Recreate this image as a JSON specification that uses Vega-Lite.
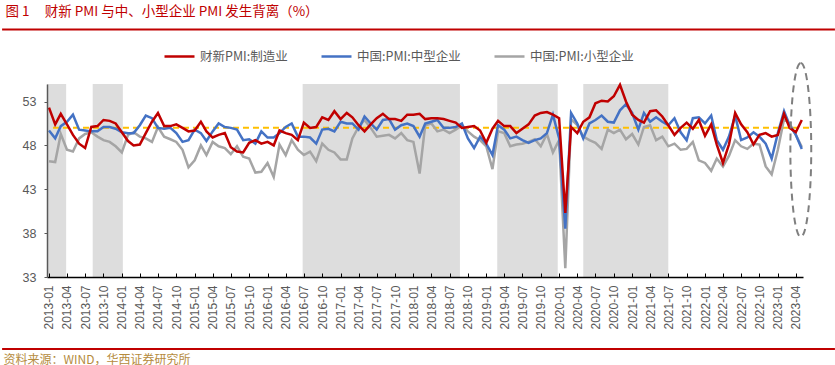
{
  "$schema": "https://vega.github.io/schema/vega-lite/v6.json",
  "width": 756,
  "height": 193,
  "autosize": {"type": "none"},
  "padding": {"left": 47, "top": 84, "right": 32, "bottom": 88},
  "background": "white",
  "config": {"view": {"stroke": null}, "font": "Liberation Sans"},
  "datasets": {
    "one": [{}],
    "bands": [
      {"start": "2012-12-22", "end": "2013-03-28"},
      {"start": "2013-08-08", "end": "2014-01-06"},
      {"start": "2016-06-25", "end": "2018-08-22"},
      {"start": "2019-02-25", "end": "2019-12-25"},
      {"start": "2020-05-01", "end": "2021-07-01"}
    ],
    "pmi": [
      {"date": "2013-01-01", "cx": 52.3, "mid": 49.7, "small": 46.2},
      {"date": "2013-02-01", "cx": 50.4, "mid": 48.8, "small": 46.1},
      {"date": "2013-03-01", "cx": 51.6, "mid": 50.2, "small": 49.3},
      {"date": "2013-04-01", "cx": 50.4, "mid": 50.7, "small": 47.5},
      {"date": "2013-05-01", "cx": 49.2, "mid": 51.5, "small": 47.3},
      {"date": "2013-06-01", "cx": 48.2, "mid": 49.8, "small": 48.8},
      {"date": "2013-07-01", "cx": 47.7, "mid": 49.7, "small": 49.3},
      {"date": "2013-08-01", "cx": 50.1, "mid": 49.6, "small": 49.5},
      {"date": "2013-09-01", "cx": 50.2, "mid": 49.6, "small": 49.0},
      {"date": "2013-10-01", "cx": 50.9, "mid": 50.1, "small": 48.6},
      {"date": "2013-11-01", "cx": 50.8, "mid": 50.1, "small": 48.4},
      {"date": "2013-12-01", "cx": 50.5, "mid": 49.9, "small": 47.9},
      {"date": "2014-01-01", "cx": 49.5, "mid": 49.5, "small": 47.2},
      {"date": "2014-02-01", "cx": 48.5, "mid": 49.4, "small": 49.2},
      {"date": "2014-03-01", "cx": 48.0, "mid": 49.4, "small": 49.5},
      {"date": "2014-04-01", "cx": 48.1, "mid": 50.3, "small": 49.0},
      {"date": "2014-05-01", "cx": 49.4, "mid": 51.4, "small": 48.8},
      {"date": "2014-06-01", "cx": 50.7, "mid": 51.1, "small": 48.4},
      {"date": "2014-07-01", "cx": 51.7, "mid": 50.0, "small": 50.1},
      {"date": "2014-08-01", "cx": 50.2, "mid": 49.9, "small": 49.0},
      {"date": "2014-09-01", "cx": 50.2, "mid": 50.0, "small": 48.7},
      {"date": "2014-10-01", "cx": 50.4, "mid": 49.4, "small": 48.4},
      {"date": "2014-11-01", "cx": 50.0, "mid": 48.4, "small": 47.5},
      {"date": "2014-12-01", "cx": 49.6, "mid": 48.6, "small": 45.5},
      {"date": "2015-01-01", "cx": 49.7, "mid": 49.8, "small": 46.3},
      {"date": "2015-02-01", "cx": 50.7, "mid": 49.4, "small": 48.0},
      {"date": "2015-03-01", "cx": 49.6, "mid": 48.5, "small": 46.9},
      {"date": "2015-04-01", "cx": 48.9, "mid": 49.6, "small": 48.4},
      {"date": "2015-05-01", "cx": 49.2, "mid": 50.5, "small": 47.9},
      {"date": "2015-06-01", "cx": 49.4, "mid": 50.1, "small": 47.7},
      {"date": "2015-07-01", "cx": 47.8, "mid": 50.0, "small": 47.0},
      {"date": "2015-08-01", "cx": 47.3, "mid": 49.8, "small": 47.9},
      {"date": "2015-09-01", "cx": 47.2, "mid": 48.6, "small": 46.7},
      {"date": "2015-10-01", "cx": 48.3, "mid": 48.7, "small": 46.5},
      {"date": "2015-11-01", "cx": 48.6, "mid": 48.2, "small": 44.9},
      {"date": "2015-12-01", "cx": 48.2, "mid": 49.6, "small": 45.0},
      {"date": "2016-01-01", "cx": 48.4, "mid": 48.9, "small": 46.0},
      {"date": "2016-02-01", "cx": 48.0, "mid": 48.9, "small": 44.4},
      {"date": "2016-03-01", "cx": 49.7, "mid": 49.4, "small": 48.1},
      {"date": "2016-04-01", "cx": 49.4, "mid": 50.1, "small": 46.9},
      {"date": "2016-05-01", "cx": 49.2, "mid": 50.5, "small": 48.6},
      {"date": "2016-06-01", "cx": 48.6, "mid": 49.0, "small": 47.5},
      {"date": "2016-07-01", "cx": 50.6, "mid": 49.0, "small": 46.9},
      {"date": "2016-08-01", "cx": 50.0, "mid": 48.9, "small": 47.3},
      {"date": "2016-09-01", "cx": 50.1, "mid": 48.2, "small": 46.2},
      {"date": "2016-10-01", "cx": 51.2, "mid": 49.8, "small": 48.2},
      {"date": "2016-11-01", "cx": 50.9, "mid": 49.9, "small": 47.5},
      {"date": "2016-12-01", "cx": 51.9, "mid": 49.6, "small": 47.2},
      {"date": "2017-01-01", "cx": 51.0, "mid": 50.7, "small": 46.4},
      {"date": "2017-02-01", "cx": 51.7, "mid": 50.5, "small": 46.4},
      {"date": "2017-03-01", "cx": 51.2, "mid": 50.5, "small": 48.8},
      {"date": "2017-04-01", "cx": 50.3, "mid": 49.8, "small": 50.1},
      {"date": "2017-05-01", "cx": 49.6, "mid": 51.3, "small": 50.9},
      {"date": "2017-06-01", "cx": 50.4, "mid": 50.5, "small": 50.0},
      {"date": "2017-07-01", "cx": 51.1, "mid": 49.8, "small": 49.0},
      {"date": "2017-08-01", "cx": 51.6, "mid": 50.9, "small": 49.1},
      {"date": "2017-09-01", "cx": 51.0, "mid": 51.0, "small": 49.2},
      {"date": "2017-10-01", "cx": 51.0, "mid": 49.8, "small": 48.8},
      {"date": "2017-11-01", "cx": 50.8, "mid": 50.3, "small": 49.4},
      {"date": "2017-12-01", "cx": 51.5, "mid": 50.5, "small": 48.6},
      {"date": "2018-01-01", "cx": 51.5, "mid": 50.2, "small": 48.4},
      {"date": "2018-02-01", "cx": 51.6, "mid": 49.0, "small": 44.8},
      {"date": "2018-03-01", "cx": 51.0, "mid": 50.5, "small": 50.3},
      {"date": "2018-04-01", "cx": 51.1, "mid": 50.7, "small": 50.5},
      {"date": "2018-05-01", "cx": 51.1, "mid": 50.9, "small": 49.6},
      {"date": "2018-06-01", "cx": 51.0, "mid": 50.0, "small": 49.8},
      {"date": "2018-07-01", "cx": 50.8, "mid": 50.0, "small": 49.4},
      {"date": "2018-08-01", "cx": 50.6, "mid": 50.1, "small": 49.8},
      {"date": "2018-09-01", "cx": 50.0, "mid": 50.5, "small": 50.3},
      {"date": "2018-10-01", "cx": 50.1, "mid": 48.8, "small": 49.6},
      {"date": "2018-11-01", "cx": 50.2, "mid": 47.7, "small": 49.0},
      {"date": "2018-12-01", "cx": 49.7, "mid": 49.0, "small": 48.6},
      {"date": "2019-01-01", "cx": 48.3, "mid": 48.2, "small": 47.9},
      {"date": "2019-02-01", "cx": 49.9, "mid": 46.9, "small": 45.3},
      {"date": "2019-03-01", "cx": 50.8, "mid": 50.3, "small": 49.6},
      {"date": "2019-04-01", "cx": 50.2, "mid": 49.8, "small": 49.4},
      {"date": "2019-05-01", "cx": 50.2, "mid": 48.8, "small": 47.9},
      {"date": "2019-06-01", "cx": 49.4, "mid": 49.0, "small": 48.1},
      {"date": "2019-07-01", "cx": 49.9, "mid": 48.6, "small": 48.2},
      {"date": "2019-08-01", "cx": 50.4, "mid": 48.3, "small": 48.4},
      {"date": "2019-09-01", "cx": 51.4, "mid": 48.6, "small": 48.7},
      {"date": "2019-10-01", "cx": 51.7, "mid": 48.8, "small": 47.9},
      {"date": "2019-11-01", "cx": 51.8, "mid": 49.4, "small": 49.3},
      {"date": "2019-12-01", "cx": 51.5, "mid": 51.5, "small": 47.2},
      {"date": "2020-01-01", "cx": 51.1, "mid": 48.8, "small": 48.6},
      {"date": "2020-02-01", "cx": 40.3, "mid": 38.5, "small": 34.0},
      {"date": "2020-03-01", "cx": 50.1, "mid": 51.7, "small": 51.0},
      {"date": "2020-04-01", "cx": 49.4, "mid": 50.5, "small": 50.3},
      {"date": "2020-05-01", "cx": 50.7, "mid": 48.8, "small": 49.0},
      {"date": "2020-06-01", "cx": 51.2, "mid": 50.5, "small": 48.6},
      {"date": "2020-07-01", "cx": 52.8, "mid": 50.9, "small": 48.3},
      {"date": "2020-08-01", "cx": 53.1, "mid": 51.4, "small": 47.6},
      {"date": "2020-09-01", "cx": 53.0, "mid": 50.7, "small": 49.8},
      {"date": "2020-10-01", "cx": 53.6, "mid": 50.6, "small": 49.4},
      {"date": "2020-11-01", "cx": 54.9, "mid": 52.0, "small": 49.8},
      {"date": "2020-12-01", "cx": 53.0, "mid": 52.7, "small": 48.7},
      {"date": "2021-01-01", "cx": 51.5, "mid": 51.7, "small": 49.3},
      {"date": "2021-02-01", "cx": 50.9, "mid": 49.8, "small": 48.1},
      {"date": "2021-03-01", "cx": 50.6, "mid": 51.7, "small": 50.1},
      {"date": "2021-04-01", "cx": 51.9, "mid": 50.7, "small": 50.3},
      {"date": "2021-05-01", "cx": 52.0, "mid": 51.2, "small": 48.6},
      {"date": "2021-06-01", "cx": 51.3, "mid": 50.7, "small": 49.0},
      {"date": "2021-07-01", "cx": 50.3, "mid": 50.3, "small": 47.9},
      {"date": "2021-08-01", "cx": 49.2, "mid": 51.1, "small": 48.2},
      {"date": "2021-09-01", "cx": 50.0, "mid": 49.5, "small": 47.5},
      {"date": "2021-10-01", "cx": 50.6, "mid": 48.6, "small": 47.6},
      {"date": "2021-11-01", "cx": 49.9, "mid": 51.1, "small": 48.4},
      {"date": "2021-12-01", "cx": 50.9, "mid": 51.2, "small": 46.3},
      {"date": "2022-01-01", "cx": 49.1, "mid": 50.5, "small": 46.0},
      {"date": "2022-02-01", "cx": 50.4, "mid": 51.4, "small": 45.1},
      {"date": "2022-03-01", "cx": 48.1, "mid": 48.6, "small": 46.5},
      {"date": "2022-04-01", "cx": 46.0, "mid": 47.5, "small": 45.6},
      {"date": "2022-05-01", "cx": 48.1, "mid": 49.0, "small": 46.8},
      {"date": "2022-06-01", "cx": 51.7, "mid": 51.4, "small": 48.6},
      {"date": "2022-07-01", "cx": 50.4, "mid": 48.6, "small": 47.9},
      {"date": "2022-08-01", "cx": 49.5, "mid": 48.9, "small": 47.6},
      {"date": "2022-09-01", "cx": 48.1, "mid": 49.5, "small": 48.2},
      {"date": "2022-10-01", "cx": 49.2, "mid": 49.0, "small": 48.1},
      {"date": "2022-11-01", "cx": 49.4, "mid": 48.2, "small": 45.6},
      {"date": "2022-12-01", "cx": 49.0, "mid": 46.5, "small": 44.7},
      {"date": "2023-01-01", "cx": 49.2, "mid": 49.4, "small": 47.5},
      {"date": "2023-02-01", "cx": 51.6, "mid": 51.9, "small": 51.0},
      {"date": "2023-03-01", "cx": 50.0, "mid": 50.3, "small": 50.5},
      {"date": "2023-04-01", "cx": 49.5, "mid": 49.2, "small": 49.2},
      {"date": "2023-05-01", "cx": 50.9, "mid": 47.6, "small": 47.8}
    ]
  },
  "layer": [
    {
      "data": {"name": "bands"},
      "mark": {"type": "rect", "color": "#DDDDDD"},
      "encoding": {
        "x": {"field": "start", "type": "temporal", "scale": {"type": "utc", "domain": [{"year": 2012, "month": 12, "date": 22, "utc": true}, {"year": 2023, "month": 5, "date": 7, "utc": true}]},
          "axis": {"title": "资料来源：WIND，华西证券研究所", "format": "%Y-%m", "tickCount": {"interval": "month", "step": 3}, "labelAngle": 270, "labelFont": "Liberation Sans", "labelFontSize": 12, "labelColor": "#595959", "labelPadding": 12, "labelOverlap": false, "labelFlush": false, "tickSize": -4, "tickColor": "#000000", "tickWidth": 1, "domainColor": "#000000", "domainWidth": 1.5, "grid": false, "titleX": -44, "titleY": 82, "titleAnchor": null, "titleAlign": "left", "titleBaseline": "middle", "titleFont": "Noto Sans CJK SC", "titleFontSize": 12, "titleFontWeight": "normal", "titleColor": "#B58B3D", "zindex": 1}},
        "x2": {"field": "end"}
      }
    },
    {
      "data": {"name": "one"},
      "mark": {"type": "rule", "color": "#FFC000", "strokeWidth": 2, "strokeDash": [6, 4]},
      "encoding": {
        "x": {"datum": {"year": 2013, "month": 1, "date": 21, "utc": true}, "type": "temporal"},
        "x2": {"datum": {"year": 2023, "month": 6, "date": 21, "utc": true}},
        "y": {"datum": 50, "type": "quantitative", "scale": {"domain": [33, 55], "zero": false, "nice": false},
          "axis": {"title": "图 1\u00a0\u00a0\u00a0\u00a0\u00a0财新 PMI 与中、小型企业 PMI 发生背离（%）", "values": [33, 38, 43, 48, 53], "labelFont": "Liberation Sans", "labelFontSize": 12.5, "labelColor": "#595959", "labelPadding": 8, "tickSize": 3, "tickColor": "#595959", "domainColor": "#595959", "domainWidth": 1.5, "grid": false, "titleAngle": 0, "titleX": -42, "titleY": -73, "titleAlign": "left", "titleBaseline": "middle", "titleFont": "Noto Sans CJK SC", "titleFontSize": 13.5, "titleFontWeight": "normal", "titleColor": "#C00000", "zindex": 1}}
      }
    },
    {
      "data": {"name": "pmi"},
      "mark": {"type": "line", "strokeWidth": 2.5},
      "encoding": {
        "x": {"field": "date", "type": "temporal"},
        "y": {"field": "small", "type": "quantitative"},
        "color": {"datum": "中国:PMI:小型企业", "type": "nominal"}
      }
    },
    {
      "data": {"name": "pmi"},
      "mark": {"type": "line", "strokeWidth": 2.5},
      "encoding": {
        "x": {"field": "date", "type": "temporal"},
        "y": {"field": "mid", "type": "quantitative"},
        "color": {"datum": "中国:PMI:中型企业", "type": "nominal"}
      }
    },
    {
      "data": {"name": "pmi"},
      "mark": {"type": "line", "strokeWidth": 2.5},
      "encoding": {
        "x": {"field": "date", "type": "temporal"},
        "y": {"field": "cx", "type": "quantitative"},
        "color": {"datum": "财新PMI:制造业", "type": "nominal", "title": null,
          "scale": {"domain": ["财新PMI:制造业", "中国:PMI:中型企业", "中国:PMI:小型企业"], "range": ["#C00000", "#4472C4", "#A5A5A5"]},
          "legend": {"orient": "none", "legendX": 116, "legendY": -44, "direction": "horizontal", "symbolType": "stroke", "symbolSize": 900, "symbolStrokeWidth": 2.5, "labelFont": "Noto Sans CJK SC", "labelFontSize": 12.5, "labelColor": "#595959", "labelOffset": 4, "columnPadding": 28, "title": null}}
      }
    },
    {
      "data": {"name": "one"},
      "mark": {"type": "point", "shape": "M0,-1A0.12,1,0,1,1,0,1A0.12,1,0,1,1,0,-1Z", "size": 30276, "filled": false, "stroke": "#7F7F7F", "strokeWidth": 2, "strokeDash": [7, 5], "opacity": 1},
      "encoding": {
        "x": {"datum": {"year": 2023, "month": 4, "date": 26, "utc": true}, "type": "temporal"},
        "y": {"datum": 47.48, "type": "quantitative"}
      }
    },
    {
      "data": {"name": "one"},
      "mark": {"type": "rule", "color": "#C00000", "strokeWidth": 2},
      "encoding": {
        "x": {"datum": {"year": 2012, "month": 5, "date": 11, "utc": true}, "type": "temporal"},
        "x2": {"datum": {"year": 2023, "month": 10, "date": 14, "utc": true}},
        "y": {"datum": 61.21, "type": "quantitative"}
      }
    },
    {
      "data": {"name": "one"},
      "mark": {"type": "rule", "color": "#C00000", "strokeWidth": 2},
      "encoding": {
        "x": {"datum": {"year": 2012, "month": 5, "date": 11, "utc": true}, "type": "temporal"},
        "x2": {"datum": {"year": 2023, "month": 10, "date": 14, "utc": true}},
        "y": {"datum": 24.79, "type": "quantitative"}
      }
    }
  ]
}
